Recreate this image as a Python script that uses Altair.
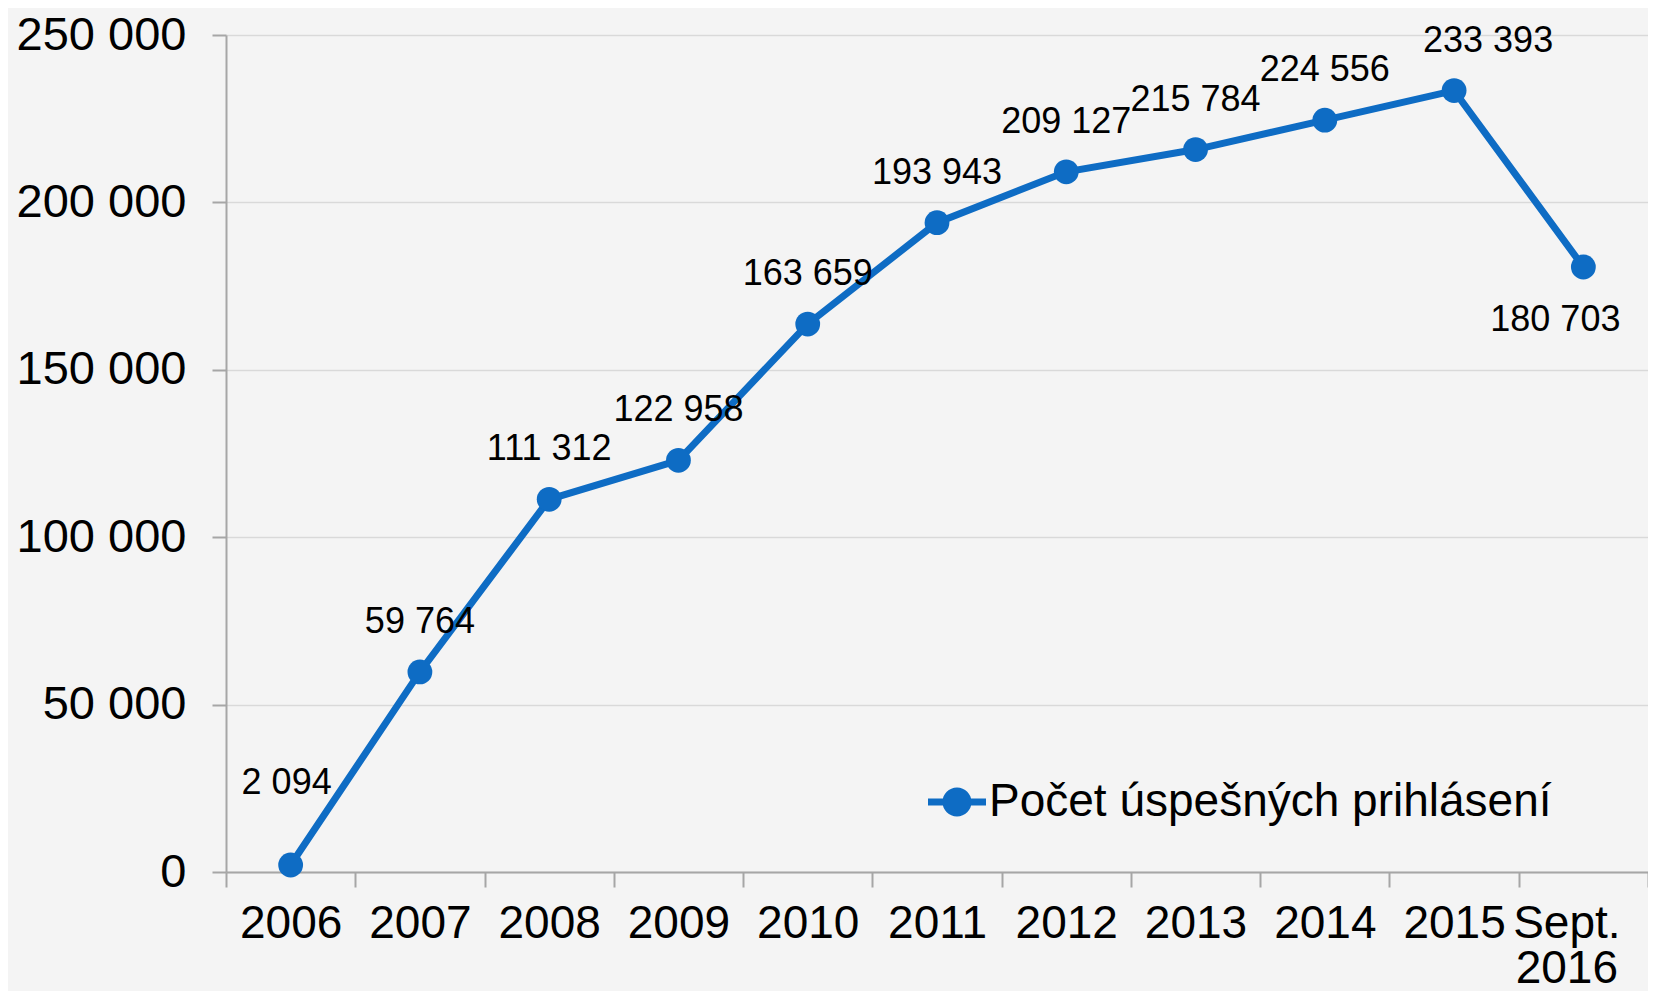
import altair as alt
import pandas as pd

categories = ["2006", "2007", "2008", "2009", "2010", "2011", "2012", "2013", "2014", "2015", "Sept. 2016"]
values = [2094, 59764, 111312, 122958, 163659, 193943, 209127, 215784, 224556, 233393, 180703]
series_name = "Počet úspešných prihlásení"
y_ticks = [0, 50000, 100000, 150000, 200000, 250000]

df = pd.DataFrame({
    "period": categories,
    "count": values,
    "series": [series_name] * len(categories),
})

BLUE = "#0e6cc4"
FONT = "Liberation Sans"
AXIS_GRAY = "#a6a6a6"
FMT = "replace(format({v}, ','), regexp(',', 'g'), ' ')"
LAST = "Sept. 2016"

legend_symbol = ("M-1,-0.12H1V0.12H-1Z "
                 "M0,-0.5A0.5,0.5 0 1,1 0,0.5A0.5,0.5 0 1,1 0,-0.5Z")

x = alt.X(
    "period:N", sort=categories, title=None,
    scale=alt.Scale(type="band", paddingInner=0, paddingOuter=0),
    axis=alt.Axis(
        labelAngle=0, labelFontSize=46, labelFont=FONT, labelColor="#000",
        labelExpr="split(datum.label, ' ')", labelLineHeight=45,
        labelPadding=14, labelBaseline="top",
        labelOffset={"condition": {"test": f"datum.value == '{LAST}'", "value": -17}, "value": 0},
        tickBand="extent", tickSize=15, tickColor=AXIS_GRAY, tickWidth=2,
        domainColor=AXIS_GRAY, domainWidth=2, grid=False,
    ),
)
y = alt.Y(
    "count:Q", title=None,
    scale=alt.Scale(domain=[0, 250000]),
    axis=alt.Axis(
        values=y_ticks, labelExpr=FMT.format(v="datum.value"),
        labelFontSize=47, labelFont=FONT, labelColor="#000", labelPadding=26,
        tickSize=14, tickColor=AXIS_GRAY, tickWidth=2,
        domainColor=AXIS_GRAY, domainWidth=2,
        gridColor="#d9d9d9", gridWidth=1.5,
    ),
)

base = alt.Chart(df).encode(x=x, y=y)

line = base.mark_line(color=BLUE, strokeWidth=7)

points = base.mark_circle(size=615, opacity=1).encode(
    color=alt.Color(
        "series:N",
        scale=alt.Scale(range=[BLUE]),
        legend=alt.Legend(
            title=None, orient="none", legendX=702, legendY=738,
            symbolType=legend_symbol, symbolSize=3364, symbolStrokeWidth=0,
            labelFontSize=46, labelFont=FONT, labelColor="#000",
            labelOffset=3, padding=0, symbolOffset=0, labelLimit=2000,
        ),
    )
)


def value_labels(test, dx, dy):
    return base.transform_filter(test).transform_calculate(
        lbl=FMT.format(v="datum['count']")
    ).mark_text(fontSize=36, font=FONT, color="#000", dx=dx, dy=dy).encode(text="lbl:N")


labels_main = value_labels(
    "datum.period != '2006' && datum.period != '2015' && datum.period != 'Sept. 2016'", 0, -50)
label_first = value_labels("datum.period == '2006'", -4, -82)
label_peak = value_labels("datum.period == '2015'", 34, -50)
label_last = value_labels(f"datum.period == '{LAST}'", -28, 53)

chart = alt.layer(line, points, labels_main, label_first, label_peak, label_last).properties(
    width=1422, height=837, autosize="none",
    padding={"left": 218, "top": 27, "right": 0, "bottom": 119},
).configure(background="#f4f4f4").configure_view(stroke=None)

chart.save("out.html", embed_options={"renderer": "svg", "actions": False})
